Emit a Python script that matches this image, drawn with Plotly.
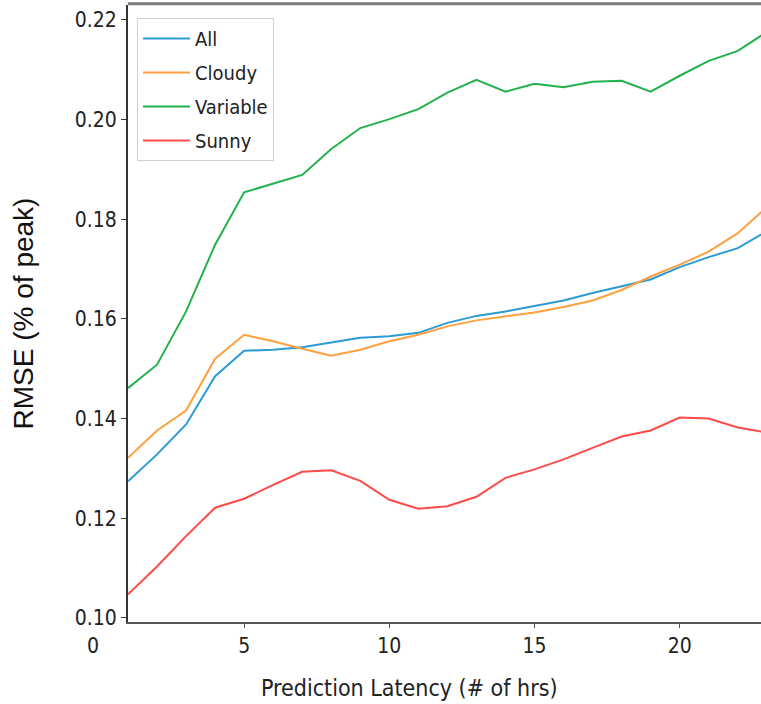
import plotly.graph_objects as go

hours = list(range(1, 24))

all_vals = [0.1274, 0.1328, 0.1388, 0.1485, 0.1536, 0.1538, 0.1543, 0.1553, 0.1562, 0.1565,
            0.1572, 0.1592, 0.1606, 0.1615, 0.1626, 0.1637, 0.1652, 0.1666, 0.1679, 0.1704,
            0.1724, 0.1742, 0.1776]
cloudy_vals = [0.1321, 0.1376, 0.1416, 0.1520, 0.1568, 0.1555, 0.1540, 0.1526, 0.1538, 0.1555,
               0.1568, 0.1585, 0.1597, 0.1605, 0.1613, 0.1624, 0.1637, 0.1658, 0.1685, 0.1709,
               0.1735, 0.1772, 0.1824]
variable_vals = [0.1461, 0.1508, 0.1615, 0.1749, 0.1854, 0.1872, 0.1889, 0.1941, 0.1983, 0.2001,
                 0.2021, 0.2054, 0.2080, 0.2056, 0.2072, 0.2065, 0.2076, 0.2078, 0.2056, 0.2088,
                 0.2118, 0.2138, 0.2176]
sunny_vals = [0.1047, 0.1103, 0.1164, 0.1221, 0.1239, 0.1267, 0.1293, 0.1296, 0.1275, 0.1237,
              0.1219, 0.1224, 0.1243, 0.1281, 0.1298, 0.1318, 0.1341, 0.1364, 0.1376, 0.1402,
              0.1400, 0.1382, 0.1372]

series_names = ["All", "Cloudy", "Variable", "Sunny"]
series_values = [all_vals, cloudy_vals, variable_vals, sunny_vals]
series_colors = ["#2a9bd4", "#ffa040", "#22b24c", "#ff4a4a"]

x_ticks = [0, 5, 10, 15, 20]
y_ticks = [0.10, 0.12, 0.14, 0.16, 0.18, 0.20, 0.22]

x_title = "Prediction Latency (# of hrs)"
y_title = "RMSE (% of peak)"

x_range = [1.0, 22.8]
y_range = [0.09916, 0.2230]

cond = "DejaVu Sans Condensed, DejaVu Sans, sans-serif"
tick_font = dict(family=cond, size=21, color="#222222")

fig = go.Figure()
for name, vals, col in zip(series_names, series_values, series_colors):
    fig.add_trace(go.Scatter(x=hours, y=vals, mode="lines", name=name, legendgroup=name,
                             line=dict(color=col, width=2)))

# tick at 0 lies left of the plot area in the reference; draw its label as text
visible_ticks = [t for t in x_ticks if x_range[0] <= t <= x_range[1]]
hidden_ticks = [t for t in x_ticks if t not in visible_ticks]
for t in hidden_ticks:
    fig.add_annotation(x=(t - x_range[0]) / (x_range[1] - x_range[0]) - 0.022, y=0,
                       xref="paper", yref="paper", text=str(t), showarrow=False,
                       yanchor="top", yshift=-10, font=tick_font)

# x-axis title (sits left of centre in the reference)
fig.add_annotation(x=0.445, y=0, xref="paper", yref="paper", text=x_title, showarrow=False,
                   yanchor="top", yshift=-51,
                   font=dict(family=cond, size=23, color="#222222"))

fig.update_layout(
    width=761, height=704,
    margin=dict(l=128, r=0, t=5, b=82),
    plot_bgcolor="white", paper_bgcolor="white",
    showlegend=True,
    legend=dict(x=0.0142, y=0.979, xanchor="left", yanchor="top",
                bgcolor="white", bordercolor="#d0d0d0", borderwidth=1,
                font=dict(family=cond, size=20, color="#222222"),
                itemwidth=47,
                traceorder="grouped", tracegroupgap=5),
    xaxis=dict(range=x_range, tickmode="array", tickvals=visible_ticks,
               ticktext=[str(t) for t in visible_ticks],
               showgrid=False, zeroline=False, showline=True, linecolor="#555555", linewidth=2,
               ticks="outside", ticklen=4, tickcolor="#555555", tickfont=tick_font),
    yaxis=dict(range=y_range, tickmode="array", tickvals=y_ticks,
               ticktext=[f"{v:.2f}" for v in y_ticks],
               showgrid=False, zeroline=False, showline=True, linecolor="#333333", linewidth=2,
               ticks="outside", ticklen=5, tickcolor="#333333", tickfont=tick_font,
               title=dict(text=y_title,
                          font=dict(family="Liberation Sans, Arial, sans-serif", size=28, color="#111111"),
                          standoff=33)),
)

# top spine
fig.add_shape(type="line", xref="paper", yref="paper", x0=0, x1=1, y0=1.002, y1=1.002,
              line=dict(color="#7a7a7a", width=3))

fig.write_html("out.html", config={"displayModeBar": False},
               post_script="document.body.style.margin='0';")
